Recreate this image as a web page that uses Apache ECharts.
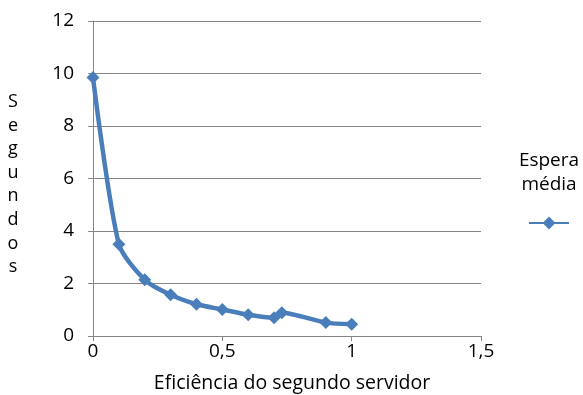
<!DOCTYPE html>
<html><head><meta charset="utf-8">
<script src="https://cdn.jsdelivr.net/npm/echarts@6/dist/echarts.min.js"></script>
<style>html,body{margin:0;padding:0;background:#fff}#c{width:583px;height:395px}</style>
</head><body><div id="c"></div>
<script>
const xValues = [0, 0.1, 0.2, 0.3, 0.4, 0.5, 0.6, 0.7, 0.73, 0.9, 1.0];
const yValues = [9.85, 3.5, 2.14, 1.57, 1.21, 1.01, 0.81, 0.7, 0.89, 0.51, 0.45];
const seriesName = 'Espera média';
const xTitle = 'Eficiência do segundo servidor';
const yTitle = 'Segundos';
const legendText = 'Espera\nmédia';

const font = '"Open Sans", "Liberation Sans", sans-serif';
const chart = echarts.init(document.getElementById('c'));
chart.setOption({
  animation: false,
  grid: {left: 93, right: 102, top: 21, bottom: 59, outerBoundsMode: 'none', containLabel: false},
  xAxis: {
    type: 'value', min: 0, max: 1.5, interval: 0.5,
    axisLine: {lineStyle: {color: '#868686'}},
    axisTick: {show: true, length: 5, lineStyle: {color: '#868686'}},
    splitLine: {show: false},
    axisLabel: {color: '#000', fontFamily: font, fontSize: 19, margin: 6,
      formatter: v => String(v).replace('.', ',')},
    name: xTitle, nameLocation: 'middle', nameGap: 37,
    nameTextStyle: {color: '#000', fontFamily: font, fontSize: 19.5, padding: [0, 0, 0, 10]}
  },
  yAxis: {
    type: 'value', min: 0, max: 12, interval: 2,
    axisLine: {show: true, lineStyle: {color: '#868686'}},
    axisTick: {show: true, length: 5, lineStyle: {color: '#868686'}},
    splitLine: {lineStyle: {color: '#868686'}},
    axisLabel: {color: '#000', fontFamily: font, fontSize: 19, margin: 19}
  },
  legend: {
    left: 523, top: 210, itemWidth: 40, itemHeight: 16,
    formatter: () => '',
    data: [seriesName]
  },
  graphic: [{
    type: 'text', x: 549, y: 149,
    style: {text: legendText, font: '19px ' + font, fill: '#000',
      align: 'center', textAlign: 'center', verticalAlign: 'top', lineHeight: 24}
  }, {
    type: 'text', x: 13, y: 90,
    style: {text: yTitle.split('').join('\n'), font: '18px ' + font, fill: '#000',
      align: 'center', textAlign: 'center', verticalAlign: 'top', lineHeight: 23.6}
  }],
  series: [{
    name: seriesName, type: 'line', smooth: 0.25,
    data: xValues.map((x, i) => [x, yValues[i]]),
    symbol: 'diamond', symbolSize: 13,
    lineStyle: {color: '#4a7ebb', width: 4.5},
    itemStyle: {color: '#4a7ebb'}
  }]
});
</script></body></html>
